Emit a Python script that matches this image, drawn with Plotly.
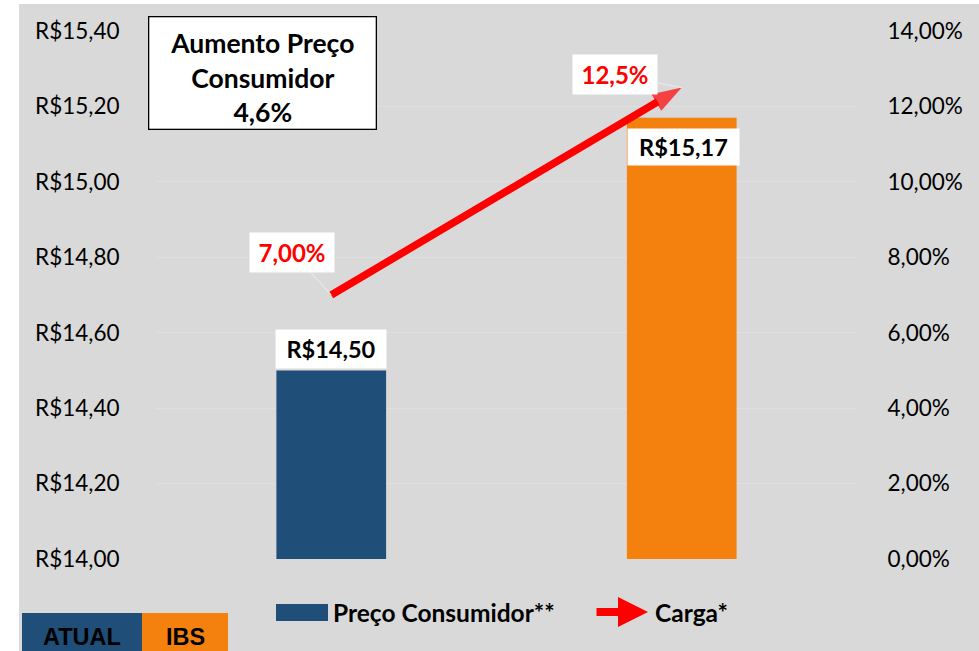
import plotly.graph_objects as go

# ---------------- data ----------------
categories = ["ATUAL", "IBS"]
preco = [14.50, 15.17]
preco_labels = ["R$14,50", "R$15,17"]
carga = [7.00, 12.5]
carga_labels = ["7,00%", "12,5%"]
bar_colors = ["#1F4E79", "#F4810E"]

left_tickvals = [14.0, 14.2, 14.4, 14.6, 14.8, 15.0, 15.2, 15.4]
left_ticktext = ["R$14,00", "R$14,20", "R$14,40", "R$14,60", "R$14,80", "R$15,00", "R$15,20", "R$15,40"]
right_tickvals = [0, 2, 4, 6, 8, 10, 12, 14]
right_ticktext = ["0,00%", "2,00%", "4,00%", "6,00%", "8,00%", "10,00%", "12,00%", "14,00%"]

legend_bar = "Preço Consumidor**"
legend_line = "Carga*"
box_text = "Aumento Preço<br>Consumidor<br>4,6%"

# ---------------- layout constants ----------------
WID, HEI = 979, 651
L, R, T, B = 156, 122, 31, 92
PW, PH = WID - L - R, HEI - T - B
BG = "#D9D9D9"
CAL = "Lato, 'Open Sans', sans-serif"
ARIAL = "'Liberation Sans', Arial, sans-serif"


def px(x):
    return (x - L) / PW


def py(y):
    return (HEI - B - y) / PH


fig = go.Figure()

fig.add_trace(go.Bar(
    x=categories, y=preco, marker=dict(color=bar_colors, line=dict(width=0)),
    width=0.313, name=legend_bar, yaxis="y", showlegend=False,
))

fig.add_trace(go.Scatter(
    x=categories, y=carga, yaxis="y2", mode="lines+markers", name=legend_line,
    line=dict(color="#FF0000", width=7.5),
    marker=dict(symbol=["circle", "arrow"], size=[7.5, 31], angleref="previous", color="#FF0000",
                line=dict(width=0)),
    showlegend=False, cliponaxis=False,
))

annotations = []
# bar value labels
annotations.append(dict(x=categories[0], y=preco[0], xref="x", yref="y", text="<b>" + preco_labels[0] + "</b>",
                        showarrow=False, yanchor="bottom", yshift=1, bgcolor="white", borderpad=5,
                        font=dict(family=CAL, size=23.5, color="black"), width=100))
annotations.append(dict(x=categories[1], y=preco[1], xref="x", yref="y", text="<b>" + preco_labels[1] + "</b>",
                        showarrow=False, yanchor="top", yshift=-10, xshift=2, bgcolor="white", borderpad=4,
                        font=dict(family=CAL, size=23.5, color="black"), width=103))
# line value labels with leader lines
offs = [(-39, -43), (-67, -13)]
for i in range(2):
    annotations.append(dict(x=categories[i], y=carga[i], xref="x", yref="y2",
                            text="<b>" + carga_labels[i] + "</b>", showarrow=True, arrowhead=0,
                            arrowcolor="#EDEDED", arrowwidth=1, ax=offs[i][0], ay=offs[i][1],
                            bgcolor="white", borderpad=5, font=dict(family=CAL, size=24, color="#FF0000"),
                            width=74))
# info box
annotations.append(dict(x=px(148), y=py(16), xref="paper", yref="paper", xanchor="left", yanchor="top",
                        text="<b>" + box_text + "</b>", showarrow=False, bgcolor="white",
                        bordercolor="black", borderwidth=1.3, borderpad=0, width=226, height=111,
                        valign="bottom", font=dict(family=CAL, size=26.5, color="black")))
# custom legend
annotations.append(dict(x=px(331), y=py(612), xref="paper", yref="paper", xanchor="left", yanchor="middle",
                        text="<b>" + legend_bar + "</b>", showarrow=False,
                        font=dict(family=CAL, size=24.5, color="black")))
annotations.append(dict(x=px(653), y=py(612), xref="paper", yref="paper", xanchor="left", yanchor="middle",
                        text="<b>" + legend_line + "</b>", showarrow=False,
                        font=dict(family=CAL, size=24.5, color="black")))
annotations.append(dict(x=px(648), y=py(612), xref="paper", yref="paper", axref="pixel", ayref="pixel",
                        ax=-53, ay=0, text="", showarrow=True, arrowhead=2, arrowsize=0.75,
                        arrowwidth=8, arrowcolor="#FF0000"))
# bottom-left category boxes text
annotations.append(dict(x=px(82), y=py(637), xref="paper", yref="paper", xanchor="center", yanchor="middle",
                        text="<b>ATUAL</b>", showarrow=False, font=dict(family=ARIAL, size=23.5, color="black")))
annotations.append(dict(x=px(185), y=py(637), xref="paper", yref="paper", xanchor="center", yanchor="middle",
                        text="<b>IBS</b>", showarrow=False, font=dict(family=ARIAL, size=23.5, color="black")))

shapes = [
    # white strips at top and left
    dict(type="rect", xref="paper", yref="paper", x0=px(-5), x1=px(WID + 5), y0=py(-5), y1=py(4),
         fillcolor="white", line=dict(width=0), layer="below"),
    dict(type="rect", xref="paper", yref="paper", x0=px(-5), x1=px(19), y0=py(-5), y1=py(HEI + 5),
         fillcolor="white", line=dict(width=0), layer="below"),
    # legend bar swatch
    dict(type="rect", xref="paper", yref="paper", x0=px(276), x1=px(328), y0=py(604), y1=py(621),
         fillcolor=bar_colors[0], line=dict(width=0)),
    # category boxes
    dict(type="rect", xref="paper", yref="paper", x0=px(22), x1=px(142), y0=py(613), y1=py(HEI + 5),
         fillcolor=bar_colors[0], line=dict(width=0)),
    dict(type="rect", xref="paper", yref="paper", x0=px(142), x1=px(228), y0=py(613), y1=py(HEI + 5),
         fillcolor=bar_colors[1], line=dict(width=0)),
]

fig.update_layout(
    width=WID, height=HEI,
    margin=dict(l=L, r=R, t=T, b=B, pad=0),
    paper_bgcolor=BG, plot_bgcolor=BG,
    showlegend=False, bargap=0.687,
    font=dict(family=CAL, size=22, color="black"),
    xaxis=dict(showticklabels=False, showgrid=False, zeroline=False, showline=False, ticks=""),
    yaxis=dict(range=[14, 15.4], tickvals=left_tickvals, ticktext=left_ticktext,
               showgrid=True, gridcolor="#DFDFDF", gridwidth=1, zeroline=False, showline=False,
               ticks="outside", ticklen=31, tickcolor="rgba(0,0,0,0)",
               tickfont=dict(family=CAL, size=22.5, color="black")),
    yaxis2=dict(range=[0, 14], overlaying="y", side="right", tickvals=right_tickvals,
                ticktext=right_ticktext, showgrid=False, zeroline=False, showline=False,
                ticks="outside", ticklen=25, tickcolor="rgba(0,0,0,0)",
                tickfont=dict(family=CAL, size=22.5, color="black")),
    annotations=annotations, shapes=shapes,
)

fig.write_html("out.html", config={"displayModeBar": False},
               post_script="document.body.style.margin='0';document.body.style.overflow='hidden';")
